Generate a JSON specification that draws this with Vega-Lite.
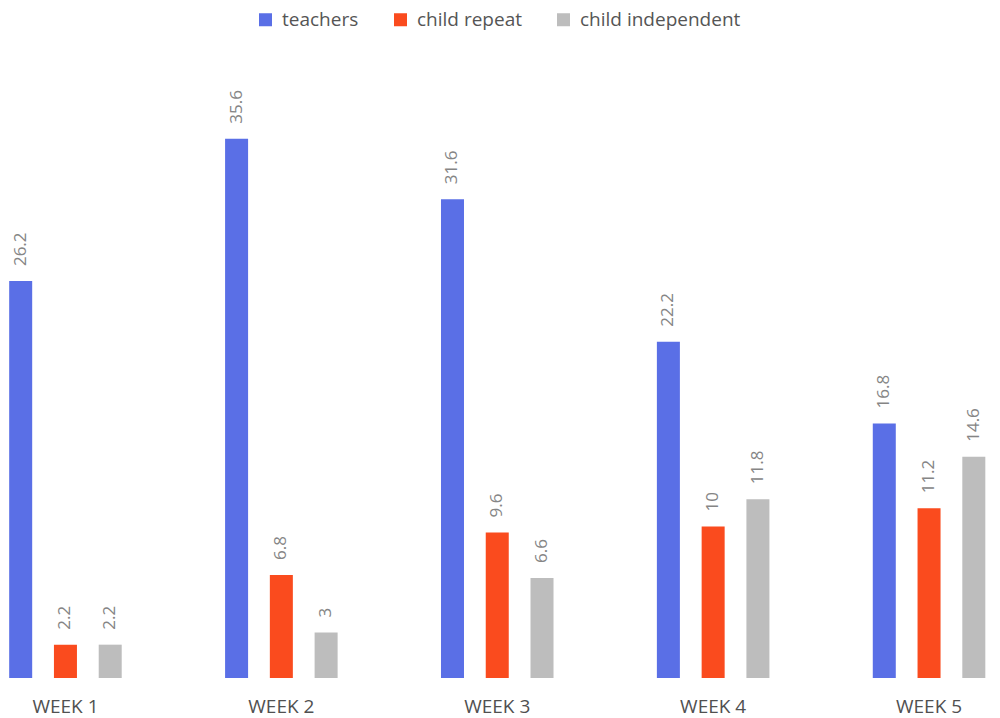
{
  "$schema": "https://vega.github.io/schema/vega-lite/v6.json",
  "width": 1000,
  "height": 606,
  "autosize": {"type": "none"},
  "padding": {"left": 0, "top": 72, "right": 0, "bottom": 40},
  "background": "white",
  "config": {"view": {"stroke": null}, "font": "Open Sans"},
  "data": {
    "values": [
      {"week": "WEEK 1", "series": "teachers", "value": 26.2},
      {"week": "WEEK 1", "series": "child repeat", "value": 2.2},
      {"week": "WEEK 1", "series": "child independent", "value": 2.2},
      {"week": "WEEK 2", "series": "teachers", "value": 35.6},
      {"week": "WEEK 2", "series": "child repeat", "value": 6.8},
      {"week": "WEEK 2", "series": "child independent", "value": 3},
      {"week": "WEEK 3", "series": "teachers", "value": 31.6},
      {"week": "WEEK 3", "series": "child repeat", "value": 9.6},
      {"week": "WEEK 3", "series": "child independent", "value": 6.6},
      {"week": "WEEK 4", "series": "teachers", "value": 22.2},
      {"week": "WEEK 4", "series": "child repeat", "value": 10},
      {"week": "WEEK 4", "series": "child independent", "value": 11.8},
      {"week": "WEEK 5", "series": "teachers", "value": 16.8},
      {"week": "WEEK 5", "series": "child repeat", "value": 11.2},
      {"week": "WEEK 5", "series": "child independent", "value": 14.6}
    ]
  },
  "encoding": {
    "x": {
      "field": "week",
      "type": "nominal",
      "sort": null,
      "scale": {"range": [-42.5, 1037], "paddingInner": 0.378, "paddingOuter": 0.189},
      "axis": {
        "title": null,
        "labelAngle": 0,
        "domain": false,
        "ticks": false,
        "labelPadding": 19,
        "labelFontSize": 19,
        "labelColor": "#505050",
        "labelFont": "Open Sans"
      }
    },
    "xOffset": {
      "field": "series",
      "type": "nominal",
      "sort": ["teachers", "child repeat", "child independent"],
      "scale": {"paddingInner": 0.486, "paddingOuter": 0.243}
    },
    "y": {
      "field": "value",
      "type": "quantitative",
      "scale": {"domain": [0, 40]},
      "axis": null
    }
  },
  "layer": [
    {
      "mark": {"type": "bar"},
      "encoding": {
        "color": {
          "field": "series",
          "type": "nominal",
          "scale": {
            "domain": ["teachers", "child repeat", "child independent"],
            "range": ["#5a6fe6", "#fa4b1e", "#bdbdbd"]
          },
          "legend": {
            "title": null,
            "orient": "none",
            "direction": "horizontal",
            "legendX": 256,
            "legendY": -62,
            "symbolType": "square",
            "symbolSize": 169,
            "symbolStrokeWidth": 0,
            "labelFontSize": 19,
            "labelLimit": 0,
            "labelColor": "#555555",
            "labelFont": "Open Sans",
            "labelOffset": 7,
            "columnPadding": 32
          }
        }
      }
    },
    {
      "mark": {
        "type": "text",
        "angle": -90,
        "align": "left",
        "baseline": "middle",
        "dx": 15,
        "fontSize": 17,
        "color": "#858585",
        "font": "Open Sans"
      },
      "encoding": {
        "text": {"field": "value", "type": "quantitative"}
      }
    }
  ]
}
